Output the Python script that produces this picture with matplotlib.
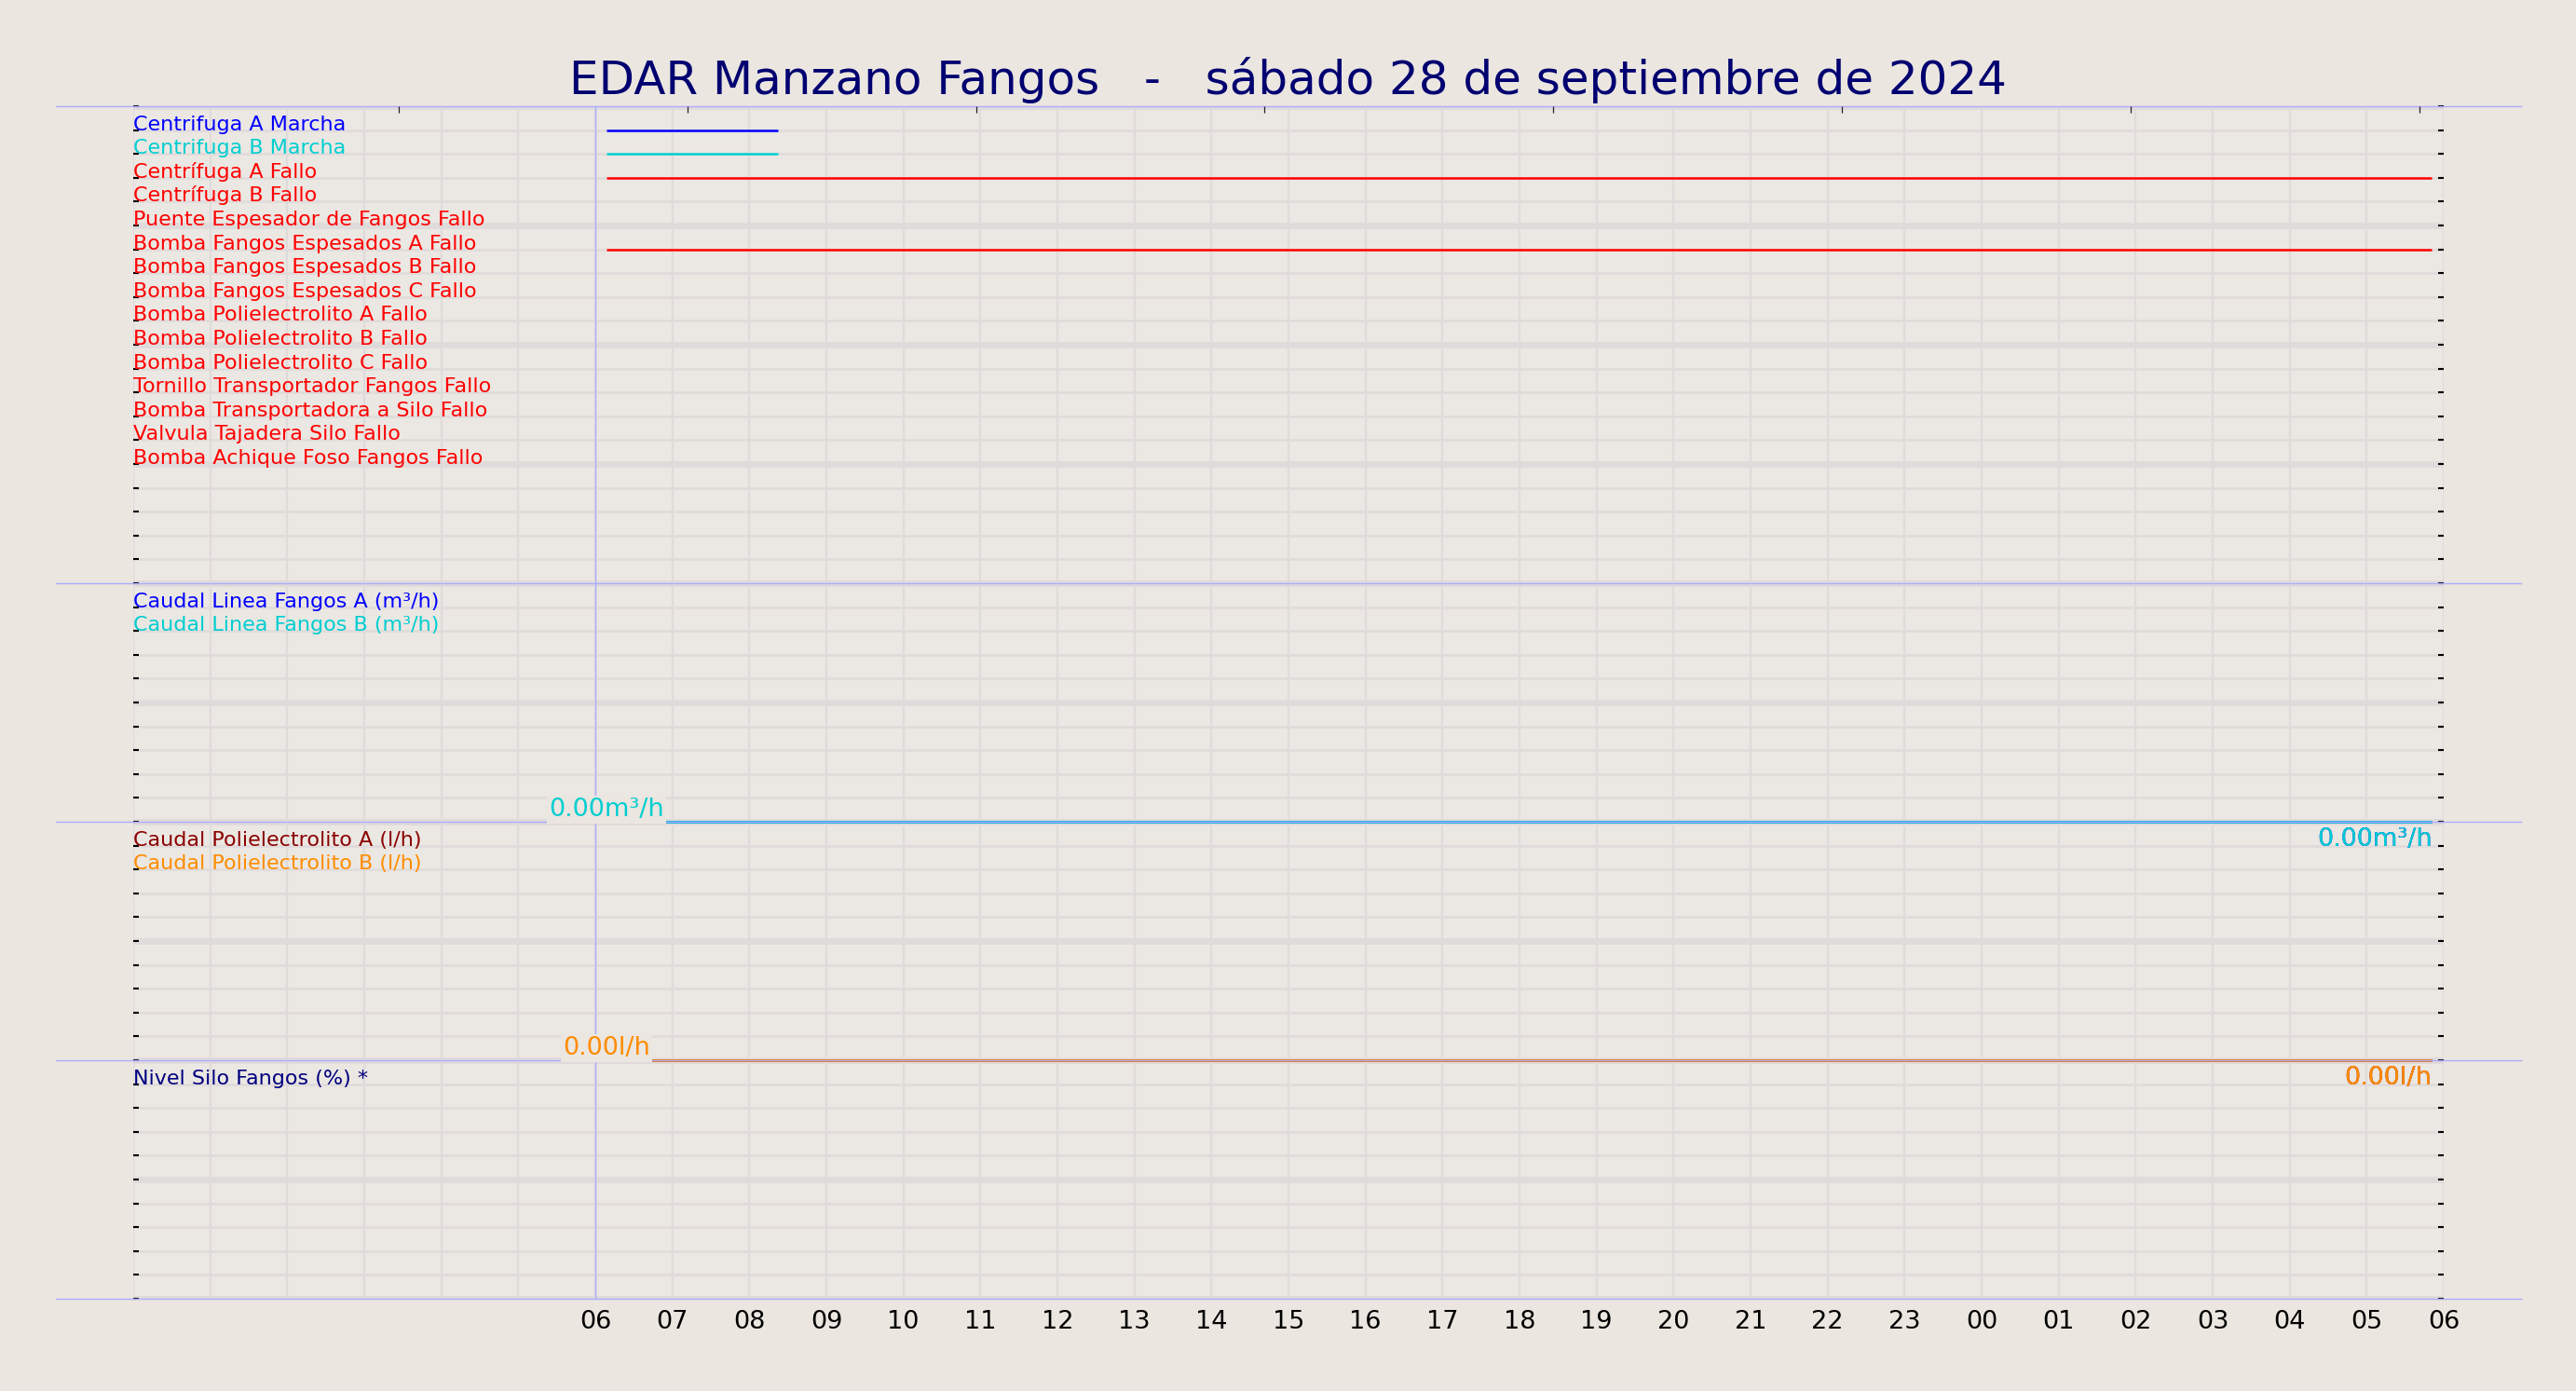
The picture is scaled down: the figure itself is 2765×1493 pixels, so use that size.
import matplotlib
matplotlib.use('Agg')
import matplotlib.pyplot as plt
from matplotlib.ticker import MultipleLocator

# ---------------- data ----------------
title_text = "EDAR Manzano Fangos   -   sábado 28 de septiembre de 2024"

hour_ticks = list(range(0, 31))
hour_labels = [''] * 6 + ['06', '07', '08', '09', '10', '11', '12', '13', '14', '15',
                          '16', '17', '18', '19', '20', '21', '22', '23', '00', '01',
                          '02', '03', '04', '05', '06']
top_ticks = [3.444, 7.193, 10.942, 14.691, 18.44, 22.189, 25.938, 29.687]

signal_names = [
    "Centrifuga A Marcha",
    "Centrifuga B Marcha",
    "Centrífuga A Fallo",
    "Centrífuga B Fallo",
    "Puente Espesador de Fangos Fallo",
    "Bomba Fangos Espesados A Fallo",
    "Bomba Fangos Espesados B Fallo",
    "Bomba Fangos Espesados C Fallo",
    "Bomba Polielectrolito A Fallo",
    "Bomba Polielectrolito B Fallo",
    "Bomba Polielectrolito C Fallo",
    "Tornillo Transportador Fangos Fallo",
    "Bomba Transportadora a Silo Fallo",
    "Valvula Tajadera Silo Fallo",
    "Bomba Achique Foso Fangos Fallo",
]
signal_colors = ['#0000ff', '#00ced1'] + ['#ff0000'] * 13
# on-intervals (hours since 00:00 of 28/09) for each signal
signal_on = [
    [(6.145, 8.374)],
    [(6.145, 8.374)],
    [(6.145, 29.848)],
    [], [],
    [(6.145, 29.848)],
    [], [], [], [], [], [], [], [], [],
]

flow_names = ["Caudal Linea Fangos A (m³/h)", "Caudal Linea Fangos B (m³/h)"]
flow_colors = ['#0000ff', '#00ced1']
flow_times = [6.145, 29.848]
flow_a = [0.0, 0.0]
flow_b = [0.0, 0.0]
flow_max = 50.0

poly_names = ["Caudal Polielectrolito A (l/h)", "Caudal Polielectrolito B (l/h)"]
poly_colors = ['#8b0000', '#ff8c00']
poly_times = [6.145, 29.848]
poly_a = [0.0, 0.0]
poly_b = [0.0, 0.0]
poly_max = 500.0

silo_names = ["Nivel Silo Fangos (%) *"]
silo_colors = ['#000080']

# ---------------- style ----------------
BG = '#ebe6e0'
AXBG = '#ebe7e2'
GRID = '#e0dbdb'
LAV = '#acacfc'
NAVY = '#000070'

W, H = 2765, 1493
fig = plt.figure(figsize=(W / 100, H / 100), dpi=100, facecolor=BG)
ax = fig.add_axes([143 / W, 1 - 1394 / H, 2480 / W, 1280 / H])
ax.set_facecolor(AXBG)
ax.set_xlim(0, 30)
ax.set_ylim(0, 50)
for s in ax.spines.values():
    s.set_visible(False)

ax.set_xticks(hour_ticks)
ax.set_xticklabels(hour_labels)
ax.yaxis.set_major_locator(MultipleLocator(5))
ax.yaxis.set_minor_locator(MultipleLocator(1))
ax.set_yticklabels([])
ax.tick_params(axis='x', which='both', length=0, pad=9, labelsize=19.5, colors='black')
ax.tick_params(axis='y', which='both', direction='in', length=4.5, width=1.5,
               left=True, right=True, labelleft=False, colors='black')
ax.set_axisbelow(True)
ax.grid(True, axis='x', which='major', color=GRID, lw=1.6)
ax.grid(True, axis='y', which='major', color=GRID, lw=5)
ax.grid(True, axis='y', which='minor', color=GRID, lw=1.8)

LABEL_FS = 16
VAL_FS = 19.5

# top panel: digital signals (rows 49..35)
for i, (name, col, ons) in enumerate(zip(signal_names, signal_colors, signal_on)):
    level = 49 - i
    ax.text(0, level, name, color=col, fontsize=LABEL_FS, ha='left', va='baseline', zorder=6)
    for (t0, t1) in ons:
        ax.plot([t0, t1], [level, level], color=col, lw=1.8, zorder=2, solid_capstyle='butt')


def analog_panel(names, colors, times, series, vmax, base, top, unit):
    for i, (name, col) in enumerate(zip(names, colors)):
        ax.text(0, top - 1 - i, name, color=col, fontsize=LABEL_FS, ha='left',
                va='baseline', zorder=6)
    for col, vals in zip(colors, series):
        ys = [base + (top - base) * v / vmax for v in vals]
        ax.plot(times, ys, color=col, lw=1.9, zorder=2, solid_capstyle='butt')
    for col, vals in zip(colors, series):
        y0 = base + (top - base) * vals[0] / vmax
        y1 = base + (top - base) * vals[-1] / vmax
        ax.text(times[0], y0, f"{vals[0]:.2f}{unit}", color=col, fontsize=VAL_FS,
                ha='center', va='bottom', zorder=7,
                bbox=dict(facecolor=BG, edgecolor='none', pad=1.5))
        ax.annotate(f"{vals[-1]:.2f}{unit}", (times[-1], y1), xytext=(0, -4.5),
                    textcoords='offset points', color=col, fontsize=VAL_FS,
                    ha='right', va='top', zorder=7)


analog_panel(flow_names, flow_colors, flow_times, [flow_a, flow_b], flow_max, 20, 30, 'm³/h')
analog_panel(poly_names, poly_colors, poly_times, [poly_a, poly_b], poly_max, 10, 20, 'l/h')
for i, (name, col) in enumerate(zip(silo_names, silo_colors)):
    ax.text(0, 9 - i, name, color=col, fontsize=LABEL_FS, ha='left', va='baseline', zorder=6)

# separators and day start marker
for yb in [0, 10, 20, 30, 50]:
    ax.plot([-1, 31], [yb, yb], color=LAV, lw=1.0, zorder=3, clip_on=False)
ax.axvline(6, color=LAV, lw=1.0, zorder=3)

# top ticks
ax2 = ax.twiny()
ax2.set_xlim(0, 30)
ax2.set_xticks(top_ticks)
ax2.tick_params(axis='x', direction='in', length=5, width=0.9, top=True, bottom=False,
                labeltop=False, labelbottom=False, colors='#222222')
for s in ax2.spines.values():
    s.set_visible(False)
ax2.grid(False)

fig.text(0.5, 1 - 100.7 / H, title_text, ha='center', va='baseline', fontsize=36, color=NAVY)

fig.savefig('out.png', dpi=100, facecolor=BG)
